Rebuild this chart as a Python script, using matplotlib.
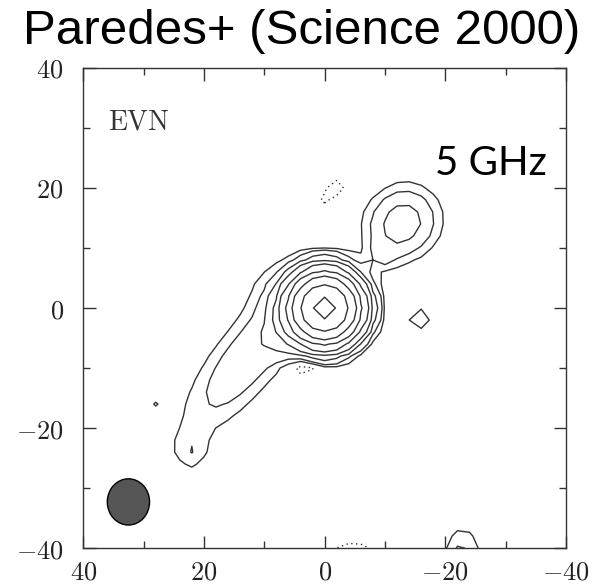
import numpy as np
import matplotlib
matplotlib.use("Agg")
import matplotlib.pyplot as plt
from matplotlib.patches import Ellipse
from matplotlib.ticker import FixedLocator, MultipleLocator, FuncFormatter

plt.rcParams['mathtext.fontset'] = 'cm'

# Gaussian model components of the 5 GHz EVN map (offsets in mas, flux in units of the lowest contour)
comp_name = ['core', 'inner_jet', 'sw_jet', 'w_ext', 'sw_tail', 'ne_neck', 'ne_lobe',
             'east_spot', 'neg_north', 'neg_south', 'sw_dot', 'se_edge', 'neg_edge']
comp_x = [0.0, 5.5, 12.6, 8.5, 22.0, -9.5, -12.9, -15.7, -1.3, 3.3, 28.0, -22.8, -4.7]
comp_y = [0.0, -3.5, -8.0, 3.5, -23.8, 8.8, 14.2, -1.8, 19.5, -10.2, -16.0, -41.0, -41.0]
comp_amp = [318.0, 5.0, 3.5, 1.0, 1.6, 2.0, 5.8, 1.9, -2.2, -2.4, 1.06, 2.43, -1.9]
comp_smaj = [2.85, 2.8, 10.0, 3.5, 2.2, 1.8, 3.7, 1.5, 2.0, 1.6, 0.8, 3.0, 3.0]
comp_smin = [2.85, 2.2, 3.3, 3.5, 1.8, 1.6, 3.4, 1.5, 0.9, 1.0, 0.8, 2.0, 1.5]
comp_pa = [0, 130, 128.5, 0, 90, 135, 135, 0, 135, 0, 0, 90, 0]

# contour levels (negative one drawn dotted)
levels = [-1, 1, 2, 4, 8, 16, 32, 64, 128, 256]

# restoring beam (centre, axes in mas)
beam_x, beam_y = 32.5, -32.3
beam_w, beam_h = 7.0, 7.7

tick_values = [40, 20, 0, -20, -40]

# evaluate the model on the map grid (2 mas cells)
g = np.arange(-46, 46.01, 2.0)
X, Y = np.meshgrid(g, g)
Z = np.zeros_like(X)
for x0, y0, a, s1, s2, pa in zip(comp_x, comp_y, comp_amp, comp_smaj, comp_smin, comp_pa):
    t = np.deg2rad(pa)
    u = (X - x0) * np.cos(t) + (Y - y0) * np.sin(t)
    v = -(X - x0) * np.sin(t) + (Y - y0) * np.cos(t)
    Z += a * np.exp(-0.5 * ((u / s1) ** 2 + (v / s2) ** 2))

fig = plt.figure(figsize=(5.94, 5.85), dpi=100)
ax = fig.add_axes([0.140, 0.063, 0.813, 0.821])

ax.contour(X, Y, Z, levels=[l for l in levels if l > 0], colors='#333333', linewidths=1.0)
ax.contour(X, Y, Z, levels=[l for l in levels if l < 0], colors='#333333', linewidths=1.0,
           linestyles=[(0, (1, 2.5))])

ax.add_patch(Ellipse((beam_x, beam_y), beam_w, beam_h, facecolor='#555555',
                     edgecolor='black', linewidth=1.0, zorder=3))

ax.set_xlim(40, -40)
ax.set_ylim(-40, 40)

ax.xaxis.set_major_locator(FixedLocator(tick_values))
ax.yaxis.set_major_locator(FixedLocator(tick_values))
ax.xaxis.set_minor_locator(MultipleLocator(10))
ax.yaxis.set_minor_locator(MultipleLocator(10))
fmt = FuncFormatter(lambda v, p: r'$%d$' % v)
ax.xaxis.set_major_formatter(fmt)
ax.yaxis.set_major_formatter(fmt)
ax.tick_params(which='both', direction='in', top=True, right=True, colors='#333333',
               labelcolor='#222222', labelsize=19)
ax.tick_params(which='major', length=9, width=1.0)
ax.tick_params(which='minor', length=5, width=1.0)
ax.tick_params(axis='y', pad=14)
ax.tick_params(axis='x', pad=8)
for s in ax.spines.values():
    s.set_color('#333333')
    s.set_linewidth(1.0)

ax.text(0.052, 0.871, r'$\mathrm{EVN}$', transform=ax.transAxes, fontsize=20,
        color='#333333', ha='left', va='baseline')
ax.text(0.96, 0.777, '5 GHz', transform=ax.transAxes, fontsize=29,
        family='Lato', ha='right', va='baseline')

fig.text(0.508, 0.925, 'Paredes+ (Science 2000)', fontsize=35.5,
         family='Liberation Sans', ha='center', va='baseline')

fig.savefig('out.png', dpi=100)
